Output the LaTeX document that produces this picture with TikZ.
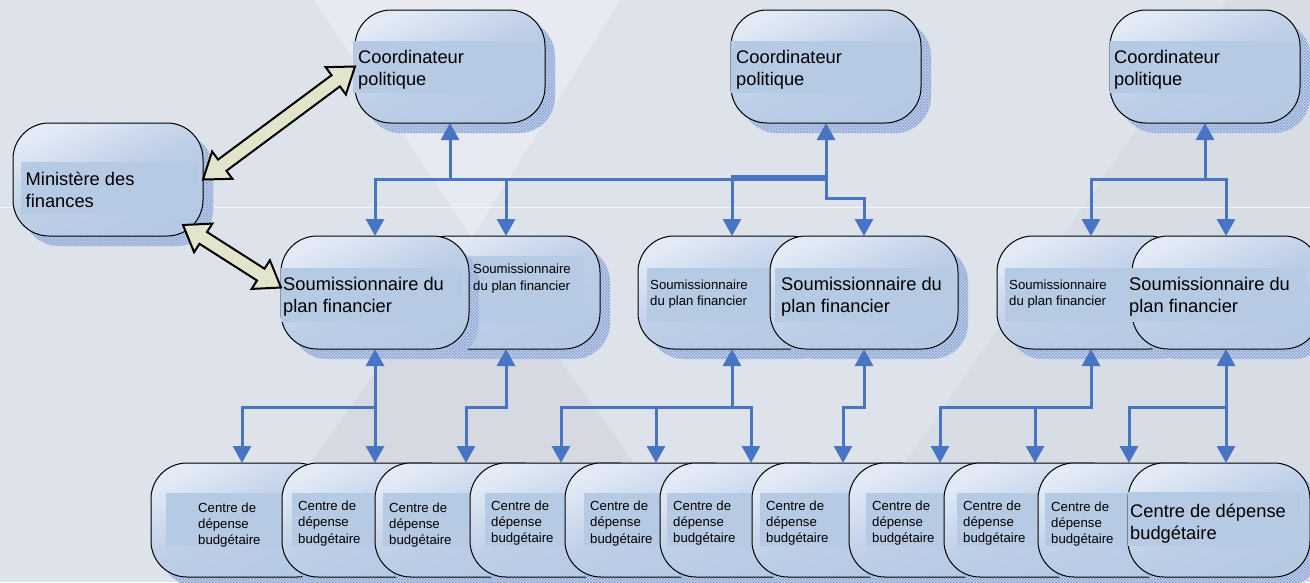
\documentclass[tikz,border=0pt]{standalone}
\usepackage{fontspec}
\setmainfont{Liberation Sans}
\usetikzlibrary{arrows.meta,calc,patterns}
\definecolor{bgc}{HTML}{DEE2EA}
\definecolor{bglight}{HTML}{E7EAF1}
\definecolor{bgdark}{HTML}{D6D9E1}
\definecolor{bgdarkb}{HTML}{D8DCE4}
\definecolor{boxtop}{HTML}{E2EAF6}
\definecolor{boxmid}{HTML}{BDCEE7}
\definecolor{boxbot}{HTML}{B6C9E3}
\definecolor{bandc}{HTML}{B7CAE4}
\definecolor{shadc}{HTML}{C9D5EB}
\definecolor{shadl}{HTML}{8AA5D6}
\definecolor{arrc}{HTML}{4775C3}
\definecolor{fatc}{HTML}{E2E4CC}
\newcommand\BigTxt{\fontsize{18.3}{22.3}\selectfont}
\newcommand\SmTxt{\fontsize{13.2}{16.3}\selectfont}
\tikzset{
  box/.style={draw=black, line width=1pt, rounded corners=36pt,
    top color=boxtop, bottom color=boxbot, middle color=boxmid, shading angle=25,
    inner sep=0pt, outer sep=0pt, anchor=north west},
  shadowp/.style={rounded corners=36pt, fill=shadc, postaction={pattern=crosshatch, pattern color=shadl}},
  lbl/.style={anchor=west, align=left, inner sep=0pt, text=black, yshift=-2pt},
  bigt/.style={font=\BigTxt},
  smt/.style={font=\SmTxt},
  conn/.style={draw=arrc, line width=3pt, line cap=rect, line join=miter},
  fat/.style={fill=fatc, draw=black, line width=2pt, line join=miter},
  >={Triangle[length=17pt,width=18pt]},
}
% name, x, y, w, h, band
\newcommand\boxonly[6]{%
  \path[shadowp] ({#2+10},{#3+10}) rectangle ++(#4,#5);
  \node[box, minimum width=#4pt, minimum height=#5pt] (#1) at (#2,#3) {};
  \fill[bandc] #6;
}
% name, x, y, w, h, band, text position, text style, text
\newcommand\drawbox[9]{%
  \boxonly{#1}{#2}{#3}{#4}{#5}{#6}%
  \node[lbl,#8] (#1t) at #7 {#9};
}
\newcommand\fatarr[2]{%
  \path[fat] (#1) -- ($(#1)!24pt!(#2)!17pt!90:(#2)$) -- ($(#1)!24pt!(#2)!7pt!90:(#2)$)
   -- ($(#2)!24pt!(#1)!7pt!-90:(#1)$) -- ($(#2)!24pt!(#1)!17pt!-90:(#1)$) -- (#2)
   -- ($(#2)!24pt!(#1)!17pt!90:(#1)$) -- ($(#2)!24pt!(#1)!7pt!90:(#1)$)
   -- ($(#1)!24pt!(#2)!7pt!-90:(#2)$) -- ($(#1)!24pt!(#2)!17pt!-90:(#2)$) -- cycle;
}
\begin{document}
\begin{tikzpicture}[x=1pt,y=-1pt]
\useasboundingbox (0,0) rectangle (1310,582);
\clip (0,0) rectangle (1310,582);
% background
\fill[bgc] (0,0) rectangle (1310,582);
\fill[bglight] (314,0) -- (620,0) -- (472,238) -- cycle;
\fill[bgdark] (472,238) -- (225,582) -- (720,582) -- cycle;
\fill[bgdarkb] (1227,0) -- (1310,0) -- (1310,582) -- (822,582) -- cycle;
\draw[white, opacity=.7, line width=.8pt] (0,207) -- (1310,207);

% bottom row
\drawbox{c1}{151}{463}{182}{114}{(166,493) rectangle (320,546)}{(198,523)}{smt}{Centre de\\dépense\\budgétaire}
\drawbox{c2}{282}{463}{182}{114}{(292,493) rectangle (450,546)}{(298,521.5)}{smt}{Centre de\\dépense\\budgétaire}
\drawbox{c3}{375}{463}{182}{114}{(383,493) rectangle (545,546)}{(389,523)}{smt}{Centre de\\dépense\\budgétaire}
\drawbox{c4}{470}{463}{182}{114}{(485,493) rectangle (640,546)}{(491,521)}{smt}{Centre de\\dépense\\budgétaire}
\drawbox{c5}{565}{463}{182}{114}{(584,493) rectangle (735,546)}{(590,521.5)}{smt}{Centre de\\dépense\\budgétaire}
\drawbox{c6}{660}{463}{182}{114}{(667,493) rectangle (830,546)}{(673,521)}{smt}{Centre de\\dépense\\budgétaire}
\drawbox{c7}{752}{463}{182}{114}{(760,493) rectangle (925,546)}{(766,521)}{smt}{Centre de\\dépense\\budgétaire}
\drawbox{c8}{849}{463}{182}{114}{(866,493) rectangle (1020,546)}{(872,521)}{smt}{Centre de\\dépense\\budgétaire}
\drawbox{c9}{944}{463}{182}{114}{(957,493) rectangle (1115,546)}{(963,521)}{smt}{Centre de\\dépense\\budgétaire}
\drawbox{c10}{1038}{463}{182}{114}{(1045,493) rectangle (1210,546)}{(1051,522)}{smt}{Centre de\\dépense\\budgétaire}
\drawbox{c11}{1128}{463}{182}{114}{(1128,492) rectangle (1300,546)}{(1130,522)}{bigt}{Centre de dépense\\budgétaire}

% middle row
\boxonly{s2}{412}{236}{188}{113}{(469,256) rectangle (584,322)}
\drawbox{s1}{281}{236}{188}{113}{(281,268) rectangle (463,322)}{(283,295)}{bigt}{Soumissionnaire du\\plan financier}
\node[lbl,smt] (s2t) at (473,276.5) {Soumissionnaire\\du plan financier};
\drawbox{s3}{638}{236}{188}{113}{(647,268) rectangle (800,322)}{(650,292)}{smt}{Soumissionnaire\\du plan financier}
\drawbox{s4}{770}{236}{188}{113}{(775,268) rectangle (953,322)}{(781,295)}{bigt}{Soumissionnaire du\\plan financier}
\drawbox{s5}{997}{236}{188}{113}{(1005,268) rectangle (1160,322)}{(1009,292)}{smt}{Soumissionnaire\\du plan financier}
\drawbox{s6}{1132}{236}{188}{113}{(1128,268) rectangle (1305,322)}{(1129,295)}{bigt}{Soumissionnaire du\\plan financier}

% top row
\drawbox{mf}{13}{123}{190}{113}{(21,162) rectangle (199,215)}{(25.5,187.5)}{bigt}{Ministère des\\finances}
\drawbox{k1}{355}{10}{190}{113}{(353,41) rectangle (541,93)}{(358,68)}{bigt}{Coordinateur\\politique}
\drawbox{k2}{731}{10}{190}{113}{(731,41) rectangle (917,93)}{(736,68)}{bigt}{Coordinateur\\politique}
\drawbox{k3}{1110}{10}{190}{113}{(1110,41) rectangle (1296,93)}{(1114,68)}{bigt}{Coordinateur\\politique}

% fat double arrows
\coordinate (fa1) at (mf.east);
\coordinate (fb1) at (k1.west);
\coordinate (fa2) at ($(mf.south east)+(-20,-11)$);
\coordinate (fb2) at ($(s1.west)+(0,-5)$);
\fatarr{fa1}{fb1}
\fatarr{fa2}{fb2}

% bus levels
\coordinate (busT) at (0,179);
\coordinate (busT2) at (0,176);
\coordinate (jogT) at (0,198);
\coordinate (busB) at (0,407);

% top connectors
\draw[conn,<-] (k1.south) -- (k1.south |- busT);
\draw[conn] (s1.north |- busT) -- (k2.south |- busT);
\draw[conn,->] (s1.north |- busT) -- (s1.north);
\draw[conn,->] (s2.north |- busT) -- (s2.north);
\draw[conn,<-] (k2.south) -- (k2.south |- busT);
\draw[conn,->] (k2.south |- busT2) -| (s3.north);
\draw[conn,->] (k2.south |- busT) |- (s4.north |- jogT) -- (s4.north);
\draw[conn,<-] (k3.south) -- (k3.south |- busT);
\draw[conn] (s5.north |- busT) -- (s6.north |- busT);
\draw[conn,->] (s5.north |- busT) -- (s5.north);
\draw[conn,->] (s6.north |- busT) -- (s6.north);

% bottom connectors
\draw[conn,<->] (s1.south) -- (s1.south |- c2.north);
\draw[conn,->] (s1.south |- busB) -| (c1.north);
\draw[conn,<->] (s2.south) |- (c3.north |- busB) -- (c3.north);
\draw[conn,<-] (s3.south) -- (s3.south |- busB);
\draw[conn] (c4.north |- busB) -- (c6.north |- busB);
\draw[conn,->] (c4.north |- busB) -- (c4.north);
\draw[conn,->] (c5.north |- busB) -- (c5.north);
\draw[conn,->] (c6.north |- busB) -- (c6.north);
\draw[conn,<->] (s4.south) |- (c7.north |- busB) -- (c7.north);
\draw[conn,<-] (s5.south) -- (s5.south |- busB);
\draw[conn] (c8.north |- busB) -- (s5.south |- busB);
\draw[conn,->] (c8.north |- busB) -- (c8.north);
\draw[conn,->] (c9.north |- busB) -- (c9.north);
\draw[conn,<->] (s6.south) -- (s6.south |- c11.north);
\draw[conn,->] (s6.south |- busB) -| (c10.north);
\end{tikzpicture}
\end{document}
